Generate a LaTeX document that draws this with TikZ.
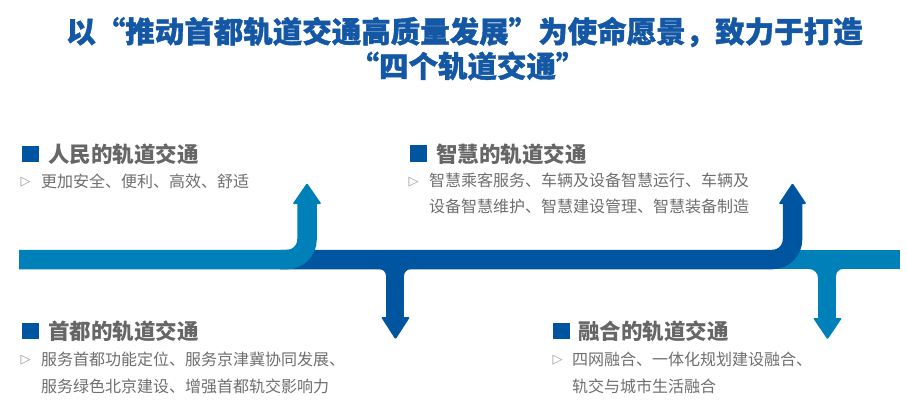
\documentclass[tikz,border=0pt]{standalone}
\usepackage{fontspec}
\newfontfamily\cjk{Noto Sans CJK SC}
\newfontfamily\cjkheavy[BoldFeatures={FakeBold=1.2}]{Noto Sans CJK SC}
\newfontfamily\dejavu{DejaVu Sans}
\definecolor{lightblue}{HTML}{0080B8}
\definecolor{darkblue}{HTML}{0055A0}
\definecolor{titleblue}{HTML}{1457A4}
\definecolor{headgray}{HTML}{666666}
\definecolor{textgray}{HTML}{6E6E6E}
\definecolor{markgray}{HTML}{9A9A9A}
\begin{document}
\begin{tikzpicture}[x=1pt,y=-1pt,
  titletext/.style={font=\cjkheavy\bfseries\fontsize{29.5}{32}\selectfont, text=titleblue, inner sep=0pt, anchor=center},
  headtext/.style={font=\cjk\bfseries\fontsize{21.5}{24}\selectfont, text=headgray, inner sep=0pt, anchor=west},
  bodytext/.style={font=\cjk\fontsize{16}{18}\selectfont, text=textgray, inner sep=0pt, anchor=west},
  bulletmark/.style={font=\dejavu\fontsize{13}{14}\selectfont, text=markgray, inner sep=0pt, anchor=center},
  headsquare/.style={fill=darkblue, inner sep=0pt, minimum width=17pt, minimum height=16.5pt, anchor=center},
  lightband/.style={draw=lightblue, line width=19.5pt},
  darkband/.style={draw=darkblue, line width=19.5pt},
  tiphead/.style={rounded corners=1.2pt}
]
\useasboundingbox (0,0) rectangle (907,412);

% ---- right light band and down arrow 2
\coordinate (rbs) at (770,259.5);
\coordinate (rbe) at (900,259.5);
\draw[lightband] (rbs) -- (rbe);
\fill[lightblue] (818,265) rectangle (836,319);
\fill[lightblue] (809,269) .. controls (813.97,269) and (818,273.03) .. (818,278) -- (818,269) -- cycle;
\fill[lightblue] (843,269) .. controls (839.14,269) and (836,272.14) .. (836,276) -- (836,269) -- cycle;
\fill[lightblue, tiphead] (813,318) -- (842,318) -- (827.5,339.5) -- cycle;

% ---- dark band with up arrow 2 and down arrow 1
\coordinate (dbs) at (280,259.5);
\coordinate (dbe) at (792.5,204);
\draw[darkband, rounded corners=20pt] (dbs) -| (dbe);
\fill[darkblue, tiphead] (778.5,204) -- (806.5,204) -- (792.5,183) -- cycle;
\fill[darkblue] (386,265) rectangle (404,318);
\fill[darkblue] (379,269) .. controls (382.86,269) and (386,272.14) .. (386,276) -- (386,269) -- cycle;
\fill[darkblue] (411,269) .. controls (407.14,269) and (404,272.14) .. (404,276) -- (404,269) -- cycle;
\fill[darkblue, tiphead] (381,317) -- (410,317) -- (395.5,339.5) -- cycle;

% ---- left light band with up arrow 1
\coordinate (lbs) at (19,259.5);
\coordinate (lbe) at (307,204);
\draw[lightband, rounded corners=20pt] (lbs) -| (lbe);
\fill[lightblue, tiphead] (292.5,204) -- (321.5,204) -- (307,183) -- cycle;

% ---- title
\node[titletext] (t1) at (464.5,32) {以“推动首都轨道交通高质量发展”为使命愿景，致力于打造};
\node[titletext] (t2) at (467.5,66) {“四个轨道交通”};

% ---- block 1
\node[headsquare] (s1) at (30,154) {};
\node[headtext] (h1) at (48,154) {人民的轨道交通};
\node[bulletmark] (m1) at (25.5,182) {▷};
\node[bodytext] (b1) at (41,181.5) {更加安全、便利、高效、舒适};

% ---- block 2
\node[headsquare] (s2) at (418.5,153.5) {};
\node[headtext] (h2) at (436,154) {智慧的轨道交通};
\node[bulletmark] (m2) at (413.5,182) {▷};
\node[bodytext] (b2a) at (429,180.5) {智慧乘客服务、车辆及设备智慧运行、车辆及};
\node[bodytext] (b2b) at (429,206.5) {设备智慧维护、智慧建设管理、智慧装备制造};

% ---- block 3
\node[headsquare] (s3) at (30,331) {};
\node[headtext] (h3) at (48,331) {首都的轨道交通};
\node[bulletmark] (m3) at (25.5,360) {▷};
\node[bodytext] (b3a) at (41,359.5) {服务首都功能定位、服务京津冀协同发展、};
\node[bodytext] (b3b) at (41,386) {服务绿色北京建设、增强首都轨交影响力};

% ---- block 4
\node[headsquare] (s4) at (561.5,331) {};
\node[headtext] (h4) at (578,331) {融合的轨道交通};
\node[bulletmark] (m4) at (557.5,360) {▷};
\node[bodytext] (b4a) at (572,359.5) {四网融合、一体化规划建设融合、};
\node[bodytext] (b4b) at (572,386) {轨交与城市生活融合};
\end{tikzpicture}
\end{document}
